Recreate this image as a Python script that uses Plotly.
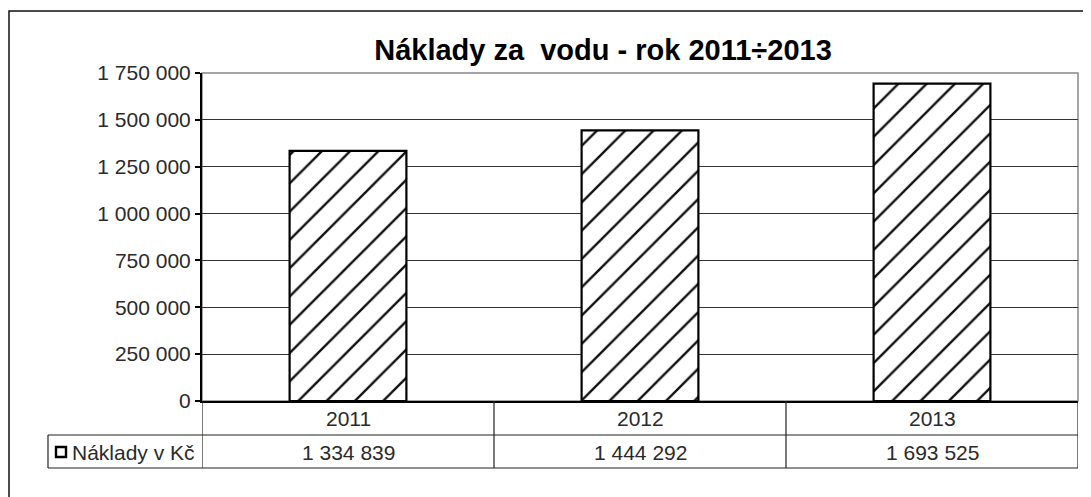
import plotly.graph_objects as go

years = ["2011", "2012", "2013"]
costs = [1334839, 1444292, 1693525]
series_name = "Náklady v Kč"
title_text = "Náklady za  vodu - rok 2011÷2013"
y_ticks = [0, 250000, 500000, 750000, 1000000, 1250000, 1500000, 1750000]

# page body has an 8px margin; figure coordinates = reference pixels - OFF
OFF = 8
W, H = 1091 - OFF, 497 - OFF
L, R, T, B = 202, 1078, 73, 401
PW, PH = R - L, B - T


def px(x):
    return (x - L) / PW


def py(y):
    return (B - y) / PH


def fmt(v):
    return f"{v:,}".replace(",", " ")


fig = go.Figure()
fig.add_trace(go.Bar(
    x=years, y=costs, name=series_name, width=0.4,
    marker=dict(color="white", line=dict(color="black", width=2.2),
                pattern=dict(shape="/", fgcolor="#111", bgcolor="white",
                             fgopacity=1, size=20, solidity=0.12)),
    showlegend=False,
))

font = "Liberation Sans, Arial, sans-serif"
fs = 21
txt = "#2a2a2a"
shapes = []
# outer chart border
shapes.append(dict(type="rect", xref="paper", yref="paper",
                   x0=px(9), x1=px(1089), y0=py(520), y1=py(11),
                   line=dict(color="#111", width=1.5), layer="below"))
# plot area border (gray)
shapes.append(dict(type="rect", xref="paper", yref="paper",
                   x0=0, x1=1, y0=0, y1=1,
                   line=dict(color="#888", width=1.5), layer="below"))
# table horizontal lines
for yy in (435, 468):
    shapes.append(dict(type="line", xref="paper", yref="paper",
                       x0=px(48), x1=1, y0=py(yy), y1=py(yy),
                       line=dict(color="#222", width=1.2)))
# table vertical lines at category boundaries
for i in range(len(years) + 1):
    shapes.append(dict(type="line", xref="x", yref="paper",
                       x0=i - 0.5, x1=i - 0.5, y0=0, y1=py(468),
                       line=dict(color="#222", width=1.2)))
# legend cell left edge
shapes.append(dict(type="line", xref="paper", yref="paper",
                   x0=px(48), x1=px(48), y0=py(435), y1=py(468),
                   line=dict(color="#222", width=1.2)))
# legend key
shapes.append(dict(type="rect", xref="paper", yref="paper",
                   x0=px(56), x1=px(66), y0=py(457), y1=py(447),
                   line=dict(color="black", width=2.4), fillcolor="white"))

annotations = []
for i, (yr, v) in enumerate(zip(years, costs)):
    annotations.append(dict(x=i, y=py(418), xref="x", yref="paper",
                            text=yr, showarrow=False, yanchor="middle",
                            font=dict(size=fs, color=txt, family=font)))
    annotations.append(dict(x=i, y=py(452), xref="x", yref="paper",
                            text=fmt(v), showarrow=False, yanchor="middle",
                            font=dict(size=fs, color=txt, family=font)))
annotations.append(dict(x=px(70), y=py(452), xref="paper", yref="paper",
                        xanchor="left", yanchor="middle", text=series_name,
                        showarrow=False,
                        font=dict(size=fs, color=txt, family=font)))

fig.update_layout(
    width=W, height=H,
    margin=dict(l=L - OFF, r=1091 - R, t=T - OFF, b=497 - B, pad=0),
    paper_bgcolor="white", plot_bgcolor="white",
    separators=", ",
    title=dict(text=f"<b>{title_text}</b>", x=(603 - OFF) / W,
               xanchor="center", y=1 - (50 - OFF) / H, yanchor="middle",
               font=dict(size=29, color="black", family=font)),
    bargap=0.6,
    shapes=shapes,
    annotations=annotations,
    showlegend=False,
)
fig.update_xaxes(type="category", showticklabels=False, showgrid=False,
                 ticks="", showline=True, linecolor="black", linewidth=2,
                 range=[-0.5, 2.5], fixedrange=True)
fig.update_yaxes(range=[0, 1750000], tickvals=y_ticks,
                 ticktext=[fmt(v) for v in y_ticks],
                 showgrid=True, gridcolor="#333", gridwidth=1,
                 showline=True, linecolor="black", linewidth=2,
                 ticks="outside", ticklen=5, tickcolor="black", tickwidth=1.5,
                 tickfont=dict(size=fs, color=txt, family=font),
                 zeroline=False, fixedrange=True)

fig.write_html("out.html")
